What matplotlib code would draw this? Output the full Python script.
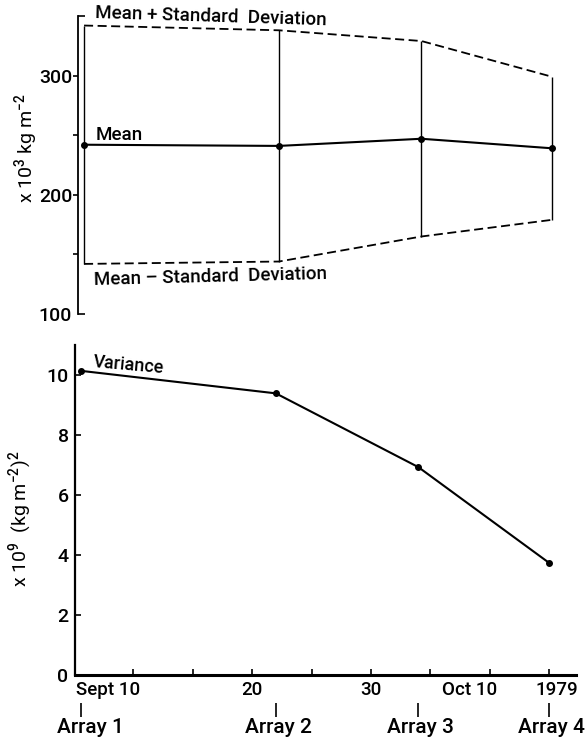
import numpy as np
import matplotlib
matplotlib.use("Agg")
import matplotlib.pyplot as plt
from matplotlib.lines import TICKRIGHT

# days counted from Sept 0 (Oct 10 -> 40)
array_days = [5.6, 22.0, 34.0, 45.0]
array_names = ["Array 1", "Array 2", "Array 3", "Array 4"]
mean_vals = [242, 241, 247, 239]          # x 10^3 kg m^-2
sd_vals = [100, 97, 82, 60]
variance_vals = [10.14, 9.39, 6.93, 3.74]  # x 10^9 (kg m^-2)^2

date_ticks = [10, 15, 20, 25, 30, 35, 40, 45]
date_labels = [(10, "Sept 10", "right", 5), (20, "20", "center", 0),
               (30, "30", "center", 0), (40, "Oct 10", "right", 5.5)]

upper = np.array(mean_vals) + np.array(sd_vals)
lower = np.array(mean_vals) - np.array(sd_vals)

plt.rcParams['font.family'] = ['Roboto', 'DejaVu Sans']
plt.rcParams['font.weight'] = 'medium'
plt.rcParams['mathtext.fontset'] = 'custom'
plt.rcParams['mathtext.rm'] = 'Roboto:medium'
plt.rcParams['mathtext.it'] = 'Roboto:medium'
fs = 14

fig = plt.figure(figsize=(5.87, 7.40), dpi=100)
xlim = (5.13, 47.27)

# ---- top panel: mean and standard deviation
ax1 = fig.add_axes([0.1337, 0.5757, 0.8527, 0.4027])
ax1.set_xlim(xlim)
ax1.set_ylim(100, 350)
for s in ["top", "right", "bottom"]:
    ax1.spines[s].set_visible(False)
ax1.spines["left"].set_linewidth(1.3)
ax1.set_xticks([])
ax1.set_yticks([100, 200, 300, 350])
ax1.set_yticklabels(["100", "200", "300", ""])
ax1.set_yticks([150, 250], minor=True)
ax1.tick_params(axis="y", which="both", direction="out", length=3.5, width=1.2,
                pad=1, labelsize=fs)
for t in ax1.yaxis.get_major_ticks():
    if t.get_loc() in (100, 350):
        t.tick1line.set_marker(TICKRIGHT)
        t.tick1line.set_markersize(5)

ax1.vlines(array_days, lower, upper, color="black", lw=1.0)
ax1.plot(array_days, upper, color="black", lw=1.3, dashes=(5, 2.5))
ax1.plot(array_days, lower, color="black", lw=1.3, dashes=(5, 2.5))
ax1.plot(array_days, mean_vals, color="black", lw=1.5, marker="o", ms=4)

ax1.text(6.52, 352.5, "Mean + Standard  Deviation", fontsize=13.5, ha="left",
         va="center", rotation=-1.8, rotation_mode="anchor")
ax1.text(6.6, 250.5, "Mean", fontsize=13.5, ha="left", va="center")
ax1.text(6.45, 128.5, "Mean \u2013 Standard  Deviation", fontsize=13.5, ha="left",
         va="center", rotation=1.5, rotation_mode="anchor")
ax1.set_ylabel("x 10$^{3}$ kg m$^{-2}$", fontsize=14)
ax1.yaxis.set_label_coords(-0.077, 0.557)

# ---- bottom panel: variance
ax2 = fig.add_axes([0.1286, 0.0878, 0.8527, 0.4459])
ax2.set_xlim(xlim)
ax2.set_ylim(0, 11)
for s in ["top", "right"]:
    ax2.spines[s].set_visible(False)
ax2.spines["left"].set_linewidth(1.6)
ax2.spines["bottom"].set_linewidth(2.2)
ax2.set_yticks([0, 2, 4, 6, 8, 10])
ax2.set_xticks(date_ticks)
ax2.set_xticklabels([])
ax2.tick_params(axis="both", direction="in", length=4.5, width=1.2, pad=5,
                labelsize=fs)

ax2.plot(array_days, variance_vals, color="black", lw=1.5, marker="o", ms=4)
ax2.text(6.6, 10.45, "Variance", fontsize=13, ha="left", va="center",
         rotation=-5, rotation_mode="anchor")
ax2.set_ylabel("x 10$^{9}$  (kg m$^{-2}$)$^{2}$", fontsize=14)
ax2.yaxis.set_label_coords(-0.082, 0.473)

for d, lab, ha, dx in date_labels:
    ax2.annotate(lab, xy=(d, 0), xycoords=("data", "axes fraction"),
                 xytext=(dx, -11), textcoords="offset points",
                 ha=ha, va="center", fontsize=13.5)
ax2.annotate("1979", xy=(1.0, 0), xycoords="axes fraction",
             xytext=(1.5, -11), textcoords="offset points",
             ha="right", va="center", fontsize=13.5)

ax2.vlines(array_days, -0.085, -0.127, transform=ax2.get_xaxis_transform(),
           color="black", lw=1.2, clip_on=False)
for i, (d, name) in enumerate(zip(array_days, array_names)):
    dx = 7 if i == 0 else 1.5
    ax2.annotate(name, xy=(d, 0), xycoords=("data", "axes fraction"),
                 xytext=(dx, -38), textcoords="offset points",
                 ha="center", va="center", fontsize=15)

fig.savefig("out.png", dpi=100, facecolor="white")
